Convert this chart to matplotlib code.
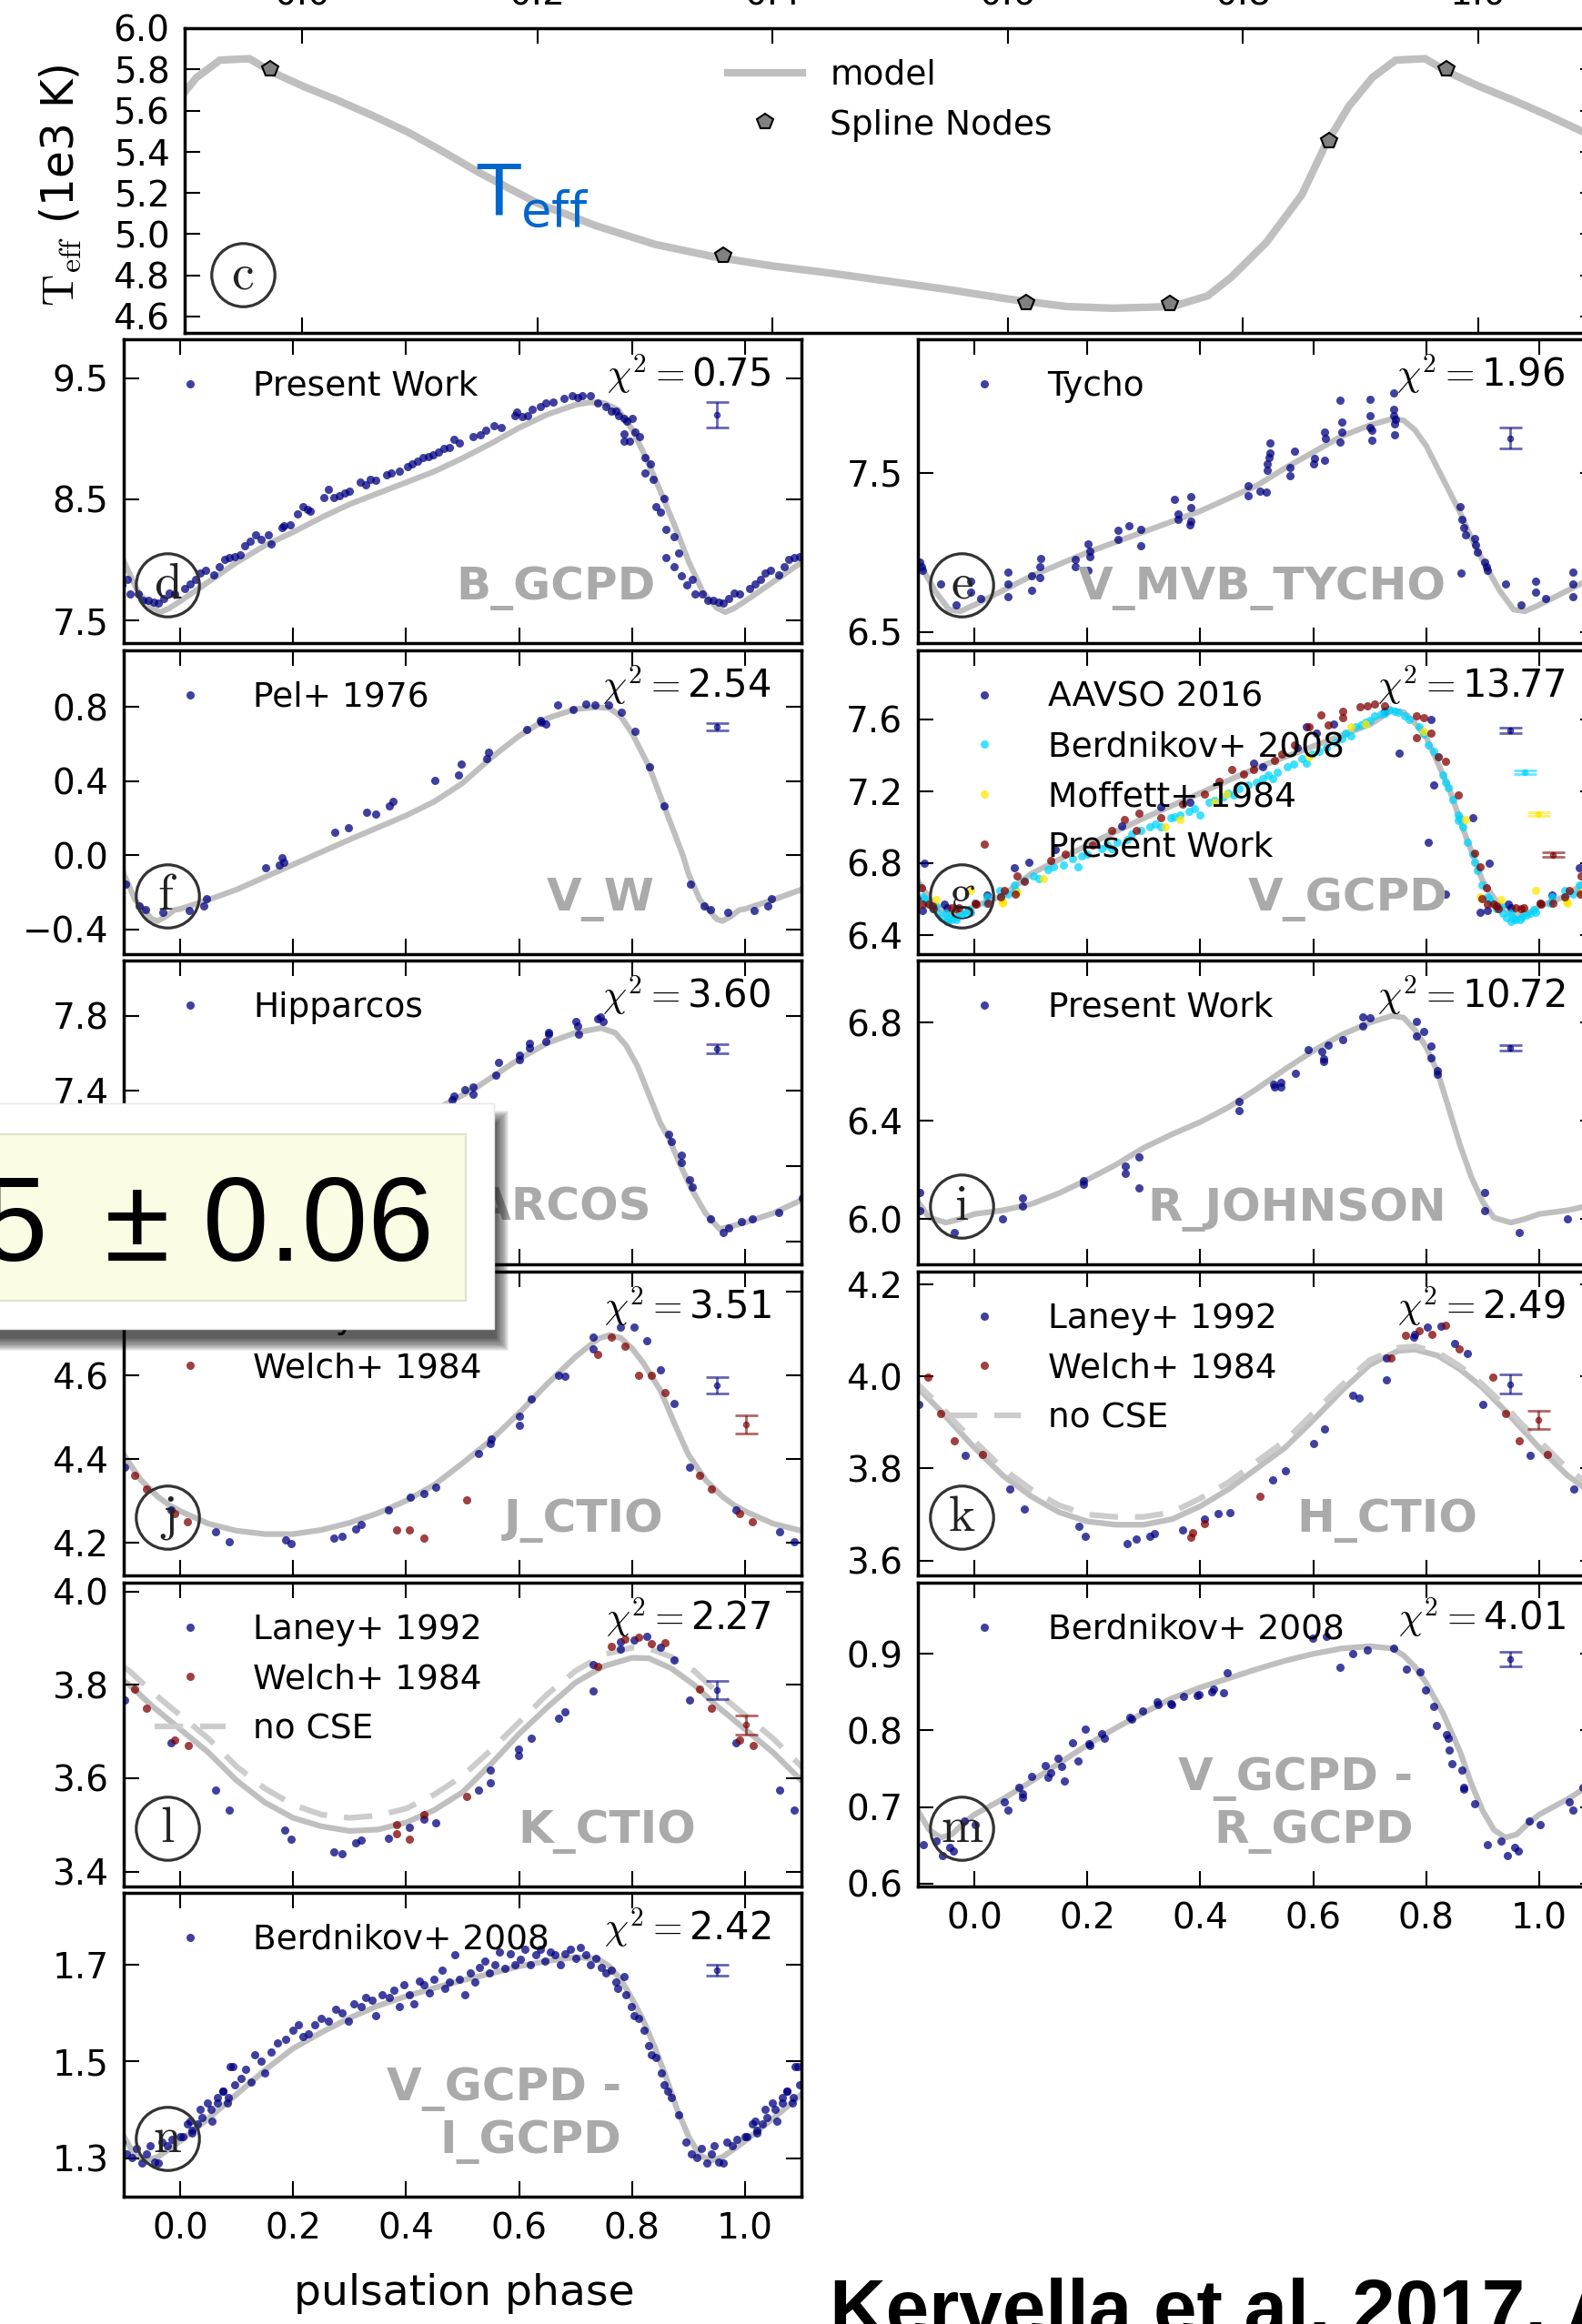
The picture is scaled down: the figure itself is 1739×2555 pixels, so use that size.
import numpy as np
import matplotlib
matplotlib.use("Agg")
from matplotlib import pyplot as plt
from matplotlib.patches import Rectangle

plt.rcParams['font.family'] = 'DejaVu Sans'
plt.rcParams['mathtext.fontset'] = 'cm'

# ---------------- values: (pulsation phase, value) ----------------
teff_model = [(0.00, 5.72), (0.03, 5.65), (0.06, 5.575), (0.09, 5.495), (0.12, 5.40), (0.15, 5.30),
              (0.20, 5.15), (0.25, 5.04), (0.30, 4.95), (0.35, 4.89), (0.40, 4.845), (0.45, 4.81),
              (0.50, 4.77), (0.55, 4.73), (0.60, 4.685), (0.65, 4.648), (0.69, 4.64), (0.74, 4.648),
              (0.77, 4.70), (0.79, 4.79), (0.82, 4.96), (0.85, 5.19), (0.87, 5.43), (0.89, 5.62),
              (0.91, 5.76), (0.93, 5.845), (0.955, 5.852), (0.975, 5.785)]
teff_nodes = [(0.358, 4.897), (0.616, 4.668), (0.738, 4.660), (0.873, 5.450), (0.973, 5.800)]

B_GCPD_model = [(0.00, 7.66), (0.05, 7.82), (0.10, 7.98), (0.15, 8.12), (0.20, 8.23), (0.25, 8.35),
                (0.30, 8.46), (0.35, 8.55), (0.40, 8.64), (0.45, 8.73), (0.50, 8.84), (0.55, 8.96),
                (0.60, 9.09), (0.65, 9.20), (0.70, 9.28), (0.725, 9.30), (0.75, 9.295), (0.775, 9.24),
                (0.80, 9.08), (0.825, 8.84), (0.85, 8.57), (0.875, 8.29), (0.90, 7.99), (0.925, 7.74),
                (0.95, 7.605), (0.965, 7.57), (0.98, 7.60)]
B_GCPD_present = [
    (0.008, 7.768), (0.018, 7.805), (0.027, 7.843), (0.036, 7.893), (0.045, 7.918), (0.059, 7.880),
    (0.069, 7.943), (0.078, 8.005), (0.087, 8.018), (0.096, 8.030), (0.106, 8.043), (0.115, 8.118),
    (0.124, 8.155), (0.133, 8.205), (0.143, 8.168), (0.156, 8.205), (0.161, 8.130), (0.180, 8.268),
    (0.184, 8.280), (0.194, 8.293), (0.207, 8.380), (0.217, 8.443), (0.226, 8.418), (0.231, 8.405),
    (0.254, 8.518), (0.263, 8.580), (0.272, 8.518), (0.281, 8.530), (0.291, 8.555), (0.300, 8.568),
    (0.319, 8.643), (0.328, 8.618), (0.337, 8.668), (0.346, 8.655), (0.365, 8.705), (0.374, 8.718),
    (0.388, 8.730), (0.402, 8.768), (0.411, 8.793), (0.420, 8.818), (0.430, 8.843), (0.439, 8.855),
    (0.448, 8.868), (0.457, 8.893), (0.467, 8.918), (0.476, 8.930), (0.485, 8.993), (0.494, 8.968),
    (0.518, 9.018), (0.531, 9.030), (0.541, 9.068), (0.555, 9.105), (0.569, 9.093), (0.592, 9.193),
    (0.596, 9.218), (0.606, 9.180), (0.615, 9.193), (0.624, 9.243), (0.638, 9.268), (0.647, 9.293),
    (0.661, 9.305), (0.680, 9.330), (0.694, 9.355), (0.703, 9.343), (0.712, 9.355), (0.726, 9.355),
    (0.740, 9.293), (0.754, 9.268), (0.763, 9.230), (0.772, 9.230), (0.777, 9.193), (0.786, 9.168),
    (0.791, 9.143), (0.800, 9.168), (0.805, 9.055), (0.786, 9.043), (0.786, 8.980), (0.795, 8.980),
    (0.814, 9.018), (0.823, 8.843), (0.832, 8.793), (0.823, 8.718), (0.837, 8.668), (0.856, 8.505),
    (0.842, 8.443), (0.851, 8.393), (0.860, 8.255), (0.874, 8.193), (0.883, 8.055), (0.860, 8.018),
    (0.874, 7.943), (0.888, 7.868), (0.897, 7.793), (0.906, 7.843), (0.911, 7.718), (0.925, 7.718),
    (0.934, 7.668), (0.944, 7.668), (0.953, 7.655), (0.962, 7.643), (0.971, 7.680), (0.981, 7.730),
    (0.990, 7.718)]
B_GCPD_err = [(0.951, 9.20, 0.104)]

V_TYCHO_model = [(0.00, 6.67), (0.05, 6.76), (0.10, 6.85), (0.20, 7.00), (0.30, 7.13), (0.40, 7.26),
                 (0.50, 7.42), (0.55, 7.53), (0.60, 7.63), (0.65, 7.73), (0.70, 7.80), (0.74, 7.84),
                 (0.76, 7.83), (0.78, 7.77), (0.80, 7.67), (0.83, 7.46), (0.86, 7.25), (0.88, 7.09),
                 (0.90, 6.95), (0.93, 6.76), (0.955, 6.64), (0.975, 6.63)]
V_TYCHO_obs = [
    (0.011, 6.710), (0.060, 6.875), (0.060, 6.799), (0.060, 6.719), (0.101, 6.852), (0.101, 6.761),
    (0.116, 6.910), (0.116, 6.843), (0.118, 6.963), (0.178, 6.910), (0.178, 6.957), (0.202, 7.052),
    (0.205, 7.005), (0.205, 6.976), (0.202, 6.885), (0.254, 7.138), (0.255, 7.081), (0.274, 7.167),
    (0.295, 7.142), (0.295, 7.043), (0.355, 7.334), (0.361, 7.243), (0.361, 7.205), (0.381, 7.176),
    (0.383, 7.353), (0.383, 7.281), (0.383, 7.195), (0.485, 7.420), (0.485, 7.357), (0.506, 7.386),
    (0.517, 7.382), (0.518, 7.557), (0.518, 7.519), (0.521, 7.595), (0.523, 7.628), (0.523, 7.690),
    (0.558, 7.534), (0.558, 7.485), (0.567, 7.637), (0.601, 7.557), (0.603, 7.591), (0.620, 7.582),
    (0.620, 7.757), (0.621, 7.715), (0.647, 7.957), (0.647, 7.694), (0.651, 7.818), (0.651, 7.757),
    (0.701, 7.963), (0.701, 7.862), (0.701, 7.786), (0.703, 7.706), (0.703, 7.767), (0.742, 8.005),
    (0.742, 7.900), (0.742, 7.862), (0.744, 7.809), (0.744, 7.738), (0.745, 7.839), (0.860, 7.287),
    (0.863, 7.209), (0.866, 7.157), (0.870, 7.110), (0.862, 6.871), (0.886, 7.087), (0.887, 7.047),
    (0.890, 7.001), (0.904, 6.938), (0.906, 6.910), (0.908, 6.885), (0.940, 6.799), (0.968, 6.671),
    (0.994, 6.818), (0.994, 6.751)]
V_TYCHO_err = [(0.949, 7.719, 0.067)]

V_W_model = [(0.00, -0.29), (0.05, -0.24), (0.10, -0.185), (0.20, -0.05), (0.30, 0.085), (0.40, 0.215),
             (0.45, 0.29), (0.50, 0.39), (0.55, 0.525), (0.60, 0.645), (0.65, 0.74), (0.70, 0.79),
             (0.74, 0.80), (0.76, 0.795), (0.78, 0.75), (0.80, 0.66), (0.83, 0.48), (0.86, 0.24),
             (0.89, 0.0), (0.90, -0.10), (0.92, -0.24), (0.95, -0.345), (0.96, -0.355), (0.975, -0.33),
             (0.99, -0.295)]
V_W_pel = [
    (0.016, -0.297), (0.041, -0.273), (0.047, -0.232), (0.152, -0.069), (0.175, -0.052), (0.180, -0.011),
    (0.184, -0.036), (0.273, 0.122), (0.298, 0.149), (0.330, 0.230), (0.346, 0.222), (0.370, 0.269),
    (0.376, 0.291), (0.451, 0.403), (0.493, 0.434), (0.498, 0.491), (0.543, 0.522), (0.546, 0.557),
    (0.613, 0.678), (0.638, 0.731), (0.640, 0.718), (0.647, 0.707), (0.669, 0.813), (0.695, 0.787),
    (0.719, 0.816), (0.735, 0.813), (0.758, 0.813), (0.781, 0.774), (0.806, 0.668), (0.831, 0.478),
    (0.856, 0.266), (0.904, -0.155), (0.928, -0.273), (0.939, -0.292), (0.969, -0.310)]
V_W_err = [(0.951, 0.696, 0.02)]

V_GCPD_model = [(0.00, 6.56), (0.05, 6.62), (0.10, 6.74), (0.20, 6.90), (0.30, 7.05), (0.40, 7.19),
                (0.50, 7.33), (0.60, 7.45), (0.70, 7.57), (0.74, 7.65), (0.76, 7.64), (0.78, 7.58),
                (0.80, 7.50), (0.84, 7.22), (0.87, 6.95), (0.90, 6.70), (0.93, 6.56), (0.96, 6.51),
                (0.98, 6.52)]
V_GCPD_aavso = [
    (0.023, 6.621), (0.071, 6.773), (0.097, 6.807), (0.144, 6.874), (0.261, 7.009), (0.330, 7.111),
    (0.381, 7.136), (0.494, 7.355), (0.511, 7.338), (0.571, 7.440), (0.588, 7.558), (0.606, 7.524),
    (0.636, 7.575), (0.726, 7.642), (0.752, 7.414), (0.804, 6.916), (0.808, 7.600), (0.813, 7.237),
    (0.834, 6.630), (0.882, 7.051), (0.895, 6.528), (0.908, 6.537), (0.912, 6.800), (0.946, 6.570),
    (0.951, 6.554)]
V_GCPD_berdnikov = [
    (0.002, 6.579), (0.020, 6.579), (0.023, 6.613), (0.045, 6.646), (0.046, 6.613), (0.071, 6.680),
    (0.072, 6.646), (0.088, 6.705), (0.105, 6.731), (0.114, 6.714), (0.131, 6.765), (0.157, 6.790),
    (0.174, 6.824), (0.183, 6.781), (0.200, 6.849), (0.226, 6.883), (0.243, 6.883), (0.252, 6.916),
    (0.278, 6.959), (0.295, 6.984), (0.321, 7.018), (0.330, 7.001), (0.347, 7.051), (0.364, 7.068),
    (0.390, 7.102), (0.399, 7.068), (0.416, 7.136), (0.442, 7.170), (0.459, 7.178), (0.468, 7.212),
    (0.485, 7.237), (0.511, 7.271), (0.528, 7.271), (0.537, 7.305), (0.554, 7.338), (0.580, 7.381),
    (0.588, 7.355), (0.597, 7.406), (0.623, 7.440), (0.640, 7.473), (0.657, 7.524), (0.666, 7.507),
    (0.675, 7.558), (0.692, 7.583), (0.701, 7.592), (0.709, 7.617), (0.726, 7.634), (0.744, 7.642),
    (0.761, 7.617), (0.787, 7.558), (0.804, 7.457), (0.813, 7.423), (0.821, 7.389), (0.830, 7.288),
    (0.839, 7.220), (0.847, 7.153), (0.856, 7.068), (0.856, 7.035), (0.865, 7.001), (0.873, 6.916),
    (0.882, 6.849), (0.886, 6.807), (0.899, 6.680), (0.908, 6.613), (0.911, 6.604), (0.925, 6.545),
    (0.933, 6.562), (0.942, 6.495), (0.950, 6.520), (0.951, 6.478), (0.959, 6.486), (0.967, 6.486),
    (0.977, 6.511), (0.984, 6.520), (0.994, 6.528),
    (0.060, 6.630), (0.140, 6.780), (0.190, 6.840), (0.235, 6.900), (0.270, 6.930), (0.310, 7.000),
    (0.355, 7.060), (0.380, 7.090), (0.425, 7.150), (0.450, 7.190), (0.500, 7.250), (0.520, 7.290),
    (0.565, 7.350), (0.610, 7.420), (0.650, 7.490), (0.685, 7.570), (0.720, 7.630), (0.735, 7.655),
    (0.750, 7.640), (0.770, 7.600), (0.795, 7.520), (0.835, 7.250), (0.860, 7.050), (0.890, 6.760),
    (0.915, 6.580), (0.935, 6.520), (0.955, 6.490), (0.970, 6.500), (0.990, 6.540)]
V_GCPD_moffett = [
    (0.049, 6.587), (0.050, 6.579), (0.075, 6.638), (0.123, 6.714), (0.338, 7.001), (0.364, 7.043),
    (0.425, 7.136), (0.446, 7.186), (0.593, 7.389), (0.666, 7.558), (0.692, 7.575), (0.796, 7.532),
    (0.869, 7.043), (0.896, 6.613), (0.933, 6.596), (0.994, 6.646)]
V_GCPD_present = [
    (0.002, 6.579), (0.003, 6.570), (0.024, 6.579), (0.046, 6.613), (0.053, 6.646), (0.072, 6.630),
    (0.075, 6.731), (0.088, 6.697), (0.135, 6.815), (0.161, 6.849), (0.209, 6.900), (0.243, 6.984),
    (0.265, 7.043), (0.286, 6.984), (0.291, 7.077), (0.330, 7.051), (0.368, 7.127), (0.407, 7.186),
    (0.433, 7.254), (0.455, 7.322), (0.476, 7.296), (0.494, 7.322), (0.532, 7.372), (0.545, 7.406),
    (0.567, 7.457), (0.593, 7.558), (0.614, 7.625), (0.627, 7.566), (0.653, 7.608), (0.653, 7.642),
    (0.683, 7.668), (0.696, 7.676), (0.709, 7.684), (0.726, 7.676), (0.783, 7.617), (0.783, 7.499),
    (0.796, 7.608), (0.808, 7.524), (0.821, 7.389), (0.834, 7.364), (0.856, 7.178), (0.886, 6.857),
    (0.895, 6.781), (0.899, 6.604), (0.907, 6.663), (0.908, 6.570), (0.920, 6.570), (0.925, 6.562),
    (0.928, 6.545), (0.959, 6.554), (0.968, 6.545), (0.972, 6.554)]
V_GCPD_err = [(0.949, 7.536, 0.015), (0.974, 7.305, 0.012), (0.999, 7.073, 0.012), (1.024, 6.846, 0.012)]

HIP_model = [(0.00, 6.70), (0.05, 6.75), (0.10, 6.82), (0.20, 6.95), (0.30, 7.08), (0.40, 7.21),
             (0.47, 7.33), (0.52, 7.41), (0.56, 7.49), (0.60, 7.57), (0.65, 7.655), (0.70, 7.71),
             (0.745, 7.735), (0.77, 7.71), (0.79, 7.64), (0.81, 7.53), (0.83, 7.38), (0.85, 7.23),
             (0.865, 7.15), (0.885, 7.01), (0.905, 6.88), (0.93, 6.75), (0.955, 6.665), (0.975, 6.68)]
HIP_obs = [
    (0.013, 6.719), (0.059, 6.752), (0.101, 6.832), (0.481, 7.356), (0.485, 7.373), (0.504, 7.405),
    (0.518, 7.421), (0.518, 7.381), (0.559, 7.485), (0.564, 7.550), (0.601, 7.566), (0.601, 7.590),
    (0.619, 7.631), (0.619, 7.655), (0.647, 7.663), (0.652, 7.703), (0.652, 7.711), (0.701, 7.768),
    (0.703, 7.744), (0.706, 7.703), (0.740, 7.784), (0.744, 7.792), (0.749, 7.768), (0.865, 7.171),
    (0.869, 7.131), (0.888, 7.058), (0.888, 7.018), (0.902, 6.929), (0.906, 6.889), (0.939, 6.719),
    (0.962, 6.647), (0.971, 6.671), (0.994, 6.703)]
HIP_err = [(0.951, 7.623, 0.024)]

R_JOHNSON_model = [(0.00, 6.02), (0.05, 6.035), (0.10, 6.06), (0.15, 6.105), (0.20, 6.16), (0.25, 6.22),
                   (0.30, 6.29), (0.35, 6.345), (0.40, 6.395), (0.45, 6.455), (0.50, 6.53), (0.55, 6.61),
                   (0.60, 6.685), (0.65, 6.75), (0.70, 6.80), (0.74, 6.828), (0.76, 6.82), (0.78, 6.77),
                   (0.80, 6.70), (0.82, 6.60), (0.84, 6.45), (0.86, 6.30), (0.88, 6.17), (0.90, 6.07),
                   (0.92, 6.005), (0.95, 5.985), (0.975, 6.00)]
R_JOHNSON_present = [
    (0.050, 6.001), (0.085, 6.084), (0.085, 6.054), (0.193, 6.156), (0.193, 6.143), (0.267, 6.215),
    (0.267, 6.186), (0.291, 6.252), (0.291, 6.125), (0.469, 6.477), (0.469, 6.442), (0.530, 6.548),
    (0.532, 6.538), (0.542, 6.557), (0.542, 6.536), (0.569, 6.594), (0.591, 6.690), (0.615, 6.683),
    (0.618, 6.653), (0.618, 6.643), (0.627, 6.709), (0.652, 6.732), (0.688, 6.822), (0.688, 6.785),
    (0.701, 6.820), (0.783, 6.804), (0.783, 6.744), (0.796, 6.763), (0.808, 6.705), (0.808, 6.656),
    (0.820, 6.604), (0.820, 6.588), (0.904, 6.106), (0.904, 6.032), (0.965, 5.946)]
R_JOHNSON_err = [(0.949, 6.696, 0.011)]

J_CTIO_model = [(0.00, 4.275), (0.05, 4.245), (0.10, 4.228), (0.15, 4.220), (0.20, 4.220), (0.25, 4.230),
                (0.30, 4.247), (0.35, 4.270), (0.40, 4.300), (0.45, 4.338), (0.50, 4.390), (0.55, 4.445),
                (0.60, 4.510), (0.65, 4.580), (0.70, 4.645), (0.74, 4.688), (0.76, 4.697), (0.78, 4.690),
                (0.80, 4.665), (0.82, 4.630), (0.85, 4.565), (0.88, 4.470), (0.90, 4.410), (0.93, 4.350),
                (0.96, 4.310), (0.98, 4.290)]
J_CTIO_laney = [
    (0.062, 4.225), (0.087, 4.201), (0.186, 4.205), (0.196, 4.198), (0.272, 4.211), (0.286, 4.215),
    (0.311, 4.232), (0.320, 4.244), (0.369, 4.278), (0.408, 4.309), (0.431, 4.318), (0.453, 4.332),
    (0.528, 4.412), (0.549, 4.438), (0.550, 4.448), (0.601, 4.502), (0.601, 4.481), (0.622, 4.543),
    (0.670, 4.601), (0.682, 4.598), (0.731, 4.691), (0.731, 4.663), (0.780, 4.716), (0.803, 4.717),
    (0.826, 4.683), (0.851, 4.614), (0.875, 4.532), (0.902, 4.380), (0.984, 4.278)]
J_CTIO_welch = [
    (0.013, 4.249), (0.383, 4.230), (0.406, 4.230), (0.431, 4.210), (0.508, 4.301), (0.740, 4.650),
    (0.763, 4.691), (0.787, 4.671), (0.811, 4.600), (0.835, 4.600), (0.858, 4.560), (0.919, 4.360),
    (0.941, 4.329), (0.990, 4.269)]
J_CTIO_err = [(0.951, 4.577, 0.020), (1.001, 4.483, 0.021)]

H_CTIO_model = [(0.00, 3.845), (0.05, 3.785), (0.10, 3.74), (0.15, 3.705), (0.20, 3.685), (0.25, 3.678),
                (0.30, 3.678), (0.35, 3.690), (0.40, 3.718), (0.45, 3.755), (0.50, 3.800), (0.55, 3.845),
                (0.60, 3.905), (0.65, 3.968), (0.70, 4.025), (0.75, 4.055), (0.78, 4.058), (0.82, 4.045),
                (0.86, 4.015), (0.90, 3.975), (0.94, 3.925), (0.97, 3.885)]
H_CTIO_nocse = [(0.00, 3.86), (0.05, 3.80), (0.10, 3.755), (0.15, 3.72), (0.20, 3.70), (0.25, 3.695),
                (0.30, 3.695), (0.35, 3.705), (0.40, 3.735), (0.45, 3.77), (0.50, 3.815), (0.55, 3.86),
                (0.60, 3.92), (0.65, 3.98), (0.70, 4.035), (0.75, 4.062), (0.78, 4.065), (0.82, 4.052),
                (0.86, 4.022), (0.90, 3.982), (0.94, 3.935), (0.97, 3.895)]
H_CTIO_laney = [
    (0.062, 3.756), (0.088, 3.713), (0.185, 3.675), (0.197, 3.653), (0.271, 3.638), (0.286, 3.646),
    (0.311, 3.653), (0.319, 3.659), (0.369, 3.667), (0.407, 3.691), (0.431, 3.703), (0.453, 3.705),
    (0.528, 3.776), (0.550, 3.795), (0.600, 3.855), (0.620, 3.886), (0.670, 3.959), (0.682, 3.953),
    (0.729, 4.039), (0.729, 3.993), (0.778, 4.085), (0.780, 4.090), (0.802, 4.106), (0.826, 4.108),
    (0.850, 4.072), (0.873, 4.049), (0.901, 3.939), (0.984, 3.828)]
H_CTIO_welch = [
    (0.015, 3.830), (0.383, 3.651), (0.386, 3.661), (0.407, 3.680), (0.506, 3.739), (0.737, 4.040),
    (0.763, 4.089), (0.787, 4.099), (0.810, 4.090), (0.834, 4.110), (0.859, 4.060), (0.918, 3.999),
    (0.940, 3.920), (0.965, 3.860)]
H_CTIO_err = [(0.949, 3.983, 0.021), (0.999, 3.905, 0.020)]

K_CTIO_model = [(0.00, 3.705), (0.05, 3.655), (0.10, 3.595), (0.15, 3.548), (0.20, 3.515), (0.25, 3.497),
                (0.30, 3.487), (0.35, 3.490), (0.40, 3.505), (0.45, 3.532), (0.50, 3.57), (0.55, 3.63),
                (0.60, 3.695), (0.65, 3.752), (0.70, 3.805), (0.75, 3.84), (0.80, 3.858), (0.83, 3.857),
                (0.87, 3.835), (0.91, 3.80), (0.95, 3.755), (0.98, 3.725)]
K_CTIO_nocse = [(0.00, 3.735), (0.05, 3.685), (0.10, 3.625), (0.15, 3.578), (0.20, 3.543), (0.25, 3.522),
                (0.30, 3.515), (0.35, 3.52), (0.40, 3.535), (0.45, 3.565), (0.50, 3.605), (0.55, 3.66),
                (0.60, 3.72), (0.65, 3.78), (0.70, 3.83), (0.75, 3.865), (0.80, 3.880), (0.83, 3.878),
                (0.87, 3.86), (0.91, 3.83), (0.95, 3.785), (0.98, 3.755)]
K_CTIO_laney = [
    (0.062, 3.575), (0.087, 3.532), (0.185, 3.489), (0.196, 3.470), (0.272, 3.442), (0.286, 3.438),
    (0.311, 3.462), (0.320, 3.468), (0.369, 3.472), (0.406, 3.495), (0.431, 3.513), (0.453, 3.505),
    (0.528, 3.575), (0.549, 3.591), (0.549, 3.618), (0.599, 3.648), (0.599, 3.662), (0.622, 3.686),
    (0.670, 3.729), (0.682, 3.743), (0.731, 3.788), (0.731, 3.844), (0.780, 3.893), (0.780, 3.877),
    (0.803, 3.897), (0.826, 3.904), (0.851, 3.881), (0.875, 3.853), (0.902, 3.767), (0.984, 3.675)]
K_CTIO_welch = [
    (0.015, 3.671), (0.383, 3.481), (0.383, 3.501), (0.406, 3.470), (0.431, 3.522), (0.508, 3.560),
    (0.740, 3.840), (0.763, 3.882), (0.787, 3.899), (0.811, 3.903), (0.835, 3.888), (0.858, 3.890),
    (0.919, 3.791), (0.941, 3.750), (0.990, 3.682)]
K_CTIO_err = [(0.951, 3.789, 0.020), (1.001, 3.714, 0.020)]

VR_model = [(0.00, 0.69), (0.05, 0.71), (0.10, 0.733), (0.15, 0.757), (0.20, 0.781), (0.25, 0.803),
            (0.30, 0.823), (0.35, 0.842), (0.40, 0.856), (0.45, 0.868), (0.50, 0.880), (0.55, 0.891),
            (0.60, 0.900), (0.65, 0.907), (0.70, 0.910), (0.74, 0.907), (0.76, 0.898), (0.78, 0.883),
            (0.80, 0.862), (0.83, 0.822), (0.86, 0.772), (0.88, 0.730), (0.90, 0.695), (0.92, 0.670),
            (0.94, 0.660), (0.96, 0.664), (0.98, 0.678)]
VR_berdnikov = [
    (0.002, 0.677), (0.053, 0.706), (0.059, 0.696), (0.078, 0.725), (0.085, 0.717), (0.085, 0.713),
    (0.101, 0.740), (0.125, 0.754), (0.131, 0.739), (0.135, 0.745), (0.148, 0.764), (0.154, 0.753),
    (0.160, 0.734), (0.174, 0.784), (0.183, 0.760), (0.197, 0.802), (0.203, 0.783), (0.205, 0.780),
    (0.226, 0.796), (0.230, 0.790), (0.275, 0.817), (0.278, 0.815), (0.298, 0.825), (0.323, 0.837),
    (0.325, 0.834), (0.348, 0.835), (0.349, 0.834), (0.370, 0.845), (0.395, 0.846), (0.397, 0.847),
    (0.420, 0.850), (0.423, 0.854), (0.442, 0.849), (0.447, 0.875), (0.599, 0.920), (0.623, 0.923),
    (0.647, 0.882), (0.670, 0.900), (0.695, 0.905), (0.742, 0.907), (0.765, 0.880), (0.789, 0.877),
    (0.798, 0.853), (0.813, 0.831), (0.818, 0.806), (0.836, 0.794), (0.839, 0.790), (0.841, 0.774),
    (0.846, 0.757), (0.863, 0.748), (0.867, 0.726), (0.867, 0.723), (0.885, 0.704), (0.909, 0.651),
    (0.933, 0.655), (0.943, 0.637), (0.957, 0.647), (0.963, 0.642), (0.982, 0.681)]
VR_err = [(0.949, 0.893, 0.0099)]

VI_model = [(0.00, 1.335), (0.05, 1.382), (0.10, 1.432), (0.15, 1.482), (0.20, 1.527), (0.25, 1.560),
            (0.30, 1.590), (0.35, 1.615), (0.40, 1.635), (0.45, 1.652), (0.50, 1.668), (0.55, 1.682),
            (0.60, 1.697), (0.65, 1.708), (0.70, 1.716), (0.74, 1.712), (0.76, 1.697), (0.78, 1.670),
            (0.80, 1.630), (0.82, 1.585), (0.84, 1.53), (0.86, 1.468), (0.88, 1.40), (0.90, 1.345),
            (0.92, 1.305), (0.94, 1.295), (0.96, 1.302), (0.98, 1.318)]
VI_berdnikov = [
    (0.004, 1.345), (0.018, 1.376), (0.021, 1.358), (0.036, 1.401), (0.048, 1.414), (0.057, 1.376),
    (0.066, 1.426), (0.075, 1.439), (0.084, 1.414), (0.089, 1.489), (0.096, 1.451), (0.107, 1.464),
    (0.116, 1.483), (0.125, 1.458), (0.132, 1.514), (0.143, 1.501), (0.150, 1.476), (0.161, 1.520),
    (0.173, 1.539), (0.186, 1.545), (0.200, 1.564), (0.209, 1.576), (0.218, 1.551), (0.227, 1.558),
    (0.239, 1.576), (0.250, 1.589), (0.263, 1.583), (0.275, 1.608), (0.286, 1.601), (0.298, 1.583),
    (0.307, 1.620), (0.321, 1.614), (0.329, 1.633), (0.339, 1.626), (0.346, 1.595), (0.357, 1.639),
    (0.370, 1.633), (0.379, 1.648), (0.388, 1.614), (0.396, 1.658), (0.405, 1.639), (0.414, 1.620),
    (0.423, 1.667), (0.432, 1.658), (0.441, 1.642), (0.450, 1.670), (0.463, 1.689), (0.468, 1.651),
    (0.477, 1.664), (0.486, 1.720), (0.495, 1.670), (0.504, 1.639), (0.513, 1.683), (0.521, 1.664),
    (0.530, 1.695), (0.539, 1.708), (0.548, 1.683), (0.557, 1.701), (0.566, 1.726), (0.575, 1.692),
    (0.584, 1.723), (0.593, 1.701), (0.602, 1.711), (0.611, 1.733), (0.620, 1.701), (0.629, 1.720),
    (0.638, 1.733), (0.646, 1.708), (0.655, 1.726), (0.664, 1.720), (0.673, 1.701), (0.682, 1.723),
    (0.691, 1.733), (0.700, 1.714), (0.709, 1.736), (0.718, 1.720), (0.727, 1.701), (0.736, 1.714),
    (0.745, 1.695), (0.754, 1.683), (0.763, 1.689), (0.771, 1.664), (0.775, 1.651), (0.786, 1.676),
    (0.789, 1.639), (0.798, 1.614), (0.804, 1.595), (0.811, 1.589), (0.821, 1.564), (0.829, 1.533),
    (0.834, 1.514), (0.843, 1.508), (0.852, 1.476), (0.857, 1.451), (0.864, 1.439), (0.870, 1.426),
    (0.882, 1.389), (0.896, 1.333), (0.905, 1.308), (0.914, 1.301), (0.923, 1.320), (0.932, 1.289),
    (0.941, 1.308), (0.946, 1.326), (0.954, 1.292), (0.961, 1.289), (0.968, 1.333), (0.977, 1.326),
    (0.986, 1.339), (0.000, 1.345), (0.013, 1.370), (0.021, 1.351), (0.030, 1.370), (0.039, 1.383),
    (0.054, 1.401), (0.066, 1.414), (0.075, 1.439), (0.086, 1.426), (0.093, 1.489)]
VI_err = [(0.950, 1.689, 0.011)]

phase_ticks = [0.0, 0.2, 0.4, 0.6, 0.8, 1.0]

panels = [
    dict(letter='d', col=0, row=0, band='B_GCPD', chi='0.75', ylim=(7.315, 9.82), yticks=[7.5, 8.5, 9.5],
         model=B_GCPD_model, series=[('Present Work', B_GCPD_present)], errs=B_GCPD_err, bx=0.638),
    dict(letter='e', col=1, row=0, band='V_MVB_TYCHO', chi='1.96', ylim=(6.43, 8.34), yticks=[6.5, 7.5],
         model=V_TYCHO_model, series=[('Tycho', V_TYCHO_obs)], errs=V_TYCHO_err, bx=0.508),
    dict(letter='f', col=0, row=1, band='V_W', chi='2.54', ylim=(-0.534, 1.107), yticks=[-0.4, 0.0, 0.4, 0.8],
         model=V_W_model, series=[('Pel+ 1976', V_W_pel)], errs=V_W_err, bx=0.703),
    dict(letter='g', col=1, row=1, band='V_GCPD', chi='13.77', ylim=(6.294, 7.983), yticks=[6.4, 6.8, 7.2, 7.6],
         model=V_GCPD_model,
         series=[('AAVSO 2016', V_GCPD_aavso), ('Berdnikov+ 2008', V_GCPD_berdnikov),
                 ('Moffett+ 1984', V_GCPD_moffett), ('Present Work', V_GCPD_present)],
         errs=V_GCPD_err, bx=0.634),
    dict(letter='h', col=0, row=2, band='HIPPARCOS', chi='3.60', ylim=(6.478, 8.094), yticks=[6.6, 7.0, 7.4, 7.8],
         model=HIP_model, series=[('Hipparcos', HIP_obs)], errs=HIP_err, bx=0.562),
    dict(letter='i', col=1, row=2, band='R_JOHNSON', chi='10.72', ylim=(5.815, 7.053), yticks=[6.0, 6.4, 6.8],
         model=R_JOHNSON_model, series=[('Present Work', R_JOHNSON_present)], errs=R_JOHNSON_err, bx=0.560),
    dict(letter='j', col=0, row=3, band='J_CTIO', chi='3.51', ylim=(4.121, 4.849), yticks=[4.2, 4.4, 4.6, 4.8],
         model=J_CTIO_model, series=[('Laney+ 1992', J_CTIO_laney), ('Welch+ 1984', J_CTIO_welch)],
         errs=J_CTIO_err, bx=0.678),
    dict(letter='k', col=1, row=3, band='H_CTIO', chi='2.49', ylim=(3.568, 4.227), yticks=[3.6, 3.8, 4.0, 4.2],
         model=H_CTIO_model, nocse=H_CTIO_nocse,
         series=[('Laney+ 1992', H_CTIO_laney), ('Welch+ 1984', H_CTIO_welch)], errs=H_CTIO_err, bx=0.693),
    dict(letter='l', col=0, row=4, band='K_CTIO', chi='2.27', ylim=(3.368, 4.019), yticks=[3.4, 3.6, 3.8, 4.0],
         model=K_CTIO_model, nocse=K_CTIO_nocse,
         series=[('Laney+ 1992', K_CTIO_laney), ('Welch+ 1984', K_CTIO_welch)], errs=K_CTIO_err, bx=0.713),
    dict(letter='m', col=1, row=4, band='V_GCPD -\nR_GCPD', chi='4.01', ylim=(0.596, 0.993),
         yticks=[0.6, 0.7, 0.8, 0.9], model=VR_model, series=[('Berdnikov+ 2008', VR_berdnikov)],
         errs=VR_err, bx=0.731, xlabels=True),
    dict(letter='n', col=0, row=5, band='V_GCPD -\nI_GCPD', chi='2.42', ylim=(1.22, 1.849), yticks=[1.3, 1.5, 1.7],
         model=VI_model, series=[('Berdnikov+ 2008', VI_berdnikov)], errs=VI_err, bx=0.734, xlabels=True),
]

# ---------------- layout (pixels) ----------------
W, H = 1740, 2555
fig = plt.figure(figsize=(W / 100, H / 100), dpi=100)
fig.patch.set_facecolor('white')


def add_axes_px(left, top, width, height):
    return fig.add_axes([left / W, 1 - (top + height) / H, width / W, height / H])


def wrap(pairs):
    arr = np.array(pairs, dtype=float)
    ph, val = arr[:, 0], arr[:, 1]
    return np.concatenate([ph - 1, ph, ph + 1]), np.tile(val, 3)


def series_colors(n):
    if n == 1:
        return [plt.cm.jet(0.0)]
    return [plt.cm.jet(i / (n - 1)) for i in range(n)]


def style_axes(ax, ylim, yticks, xlabels):
    ax.set_xlim(-0.1, 1.1)
    ax.set_ylim(*ylim)
    ax.set_xticks(phase_ticks)
    ax.set_yticks(yticks)
    ax.tick_params(direction='in', length=12, width=1.5, top=True, right=True,
                   labelsize=28, pad=12, labelbottom=xlabels)
    for s in ax.spines.values():
        s.set_linewidth(2.5)


def circled(ax, letter, x, y):
    ax.plot([x], [y], 'o', ms=50, mfc='none', mec='#333333', mew=2.3,
            transform=ax.transAxes, clip_on=False, zorder=6)
    ax.text(x, y, r'$\mathrm{%s}$' % letter, ha='center', va='center', fontsize=40,
            color='#222222', transform=ax.transAxes, zorder=6)


# ---- panel c: effective temperature ----
axc = add_axes_px(203, 31, 1551, 335)
style_axes(axc, (4.52, 6.0), np.round(np.arange(4.6, 6.01, 0.2), 1), False)
xm, ym = wrap(teff_model)
axc.plot(xm, ym, '-', color='0.75', lw=6, label='model')
xn, yn = wrap(teff_nodes)
axc.plot(xn, yn, 'p', ms=13, mfc='0.5', mec='k', mew=1.5, ls='none', label='Spline Nodes')
axc.legend(loc='upper left', bbox_to_anchor=(0.363, 1.0), frameon=False, numpoints=1,
           fontsize=27, handlelength=2.2)
axc.text(0.148, 5.084, r'T$_\mathrm{eff}$', color='#0066cc', fontsize=56, ha='left',
         va='baseline', math_fontfamily='dejavusans')
circled(axc, 'c', 0.041, 0.191)
for t in phase_ticks:
    axc.text(t, (366 - 6) / 335, '%.1f' % t, ha='center', va='baseline', fontsize=28,
             transform=axc.get_xaxis_transform())
fig.text(66 / W, 1 - 204 / H, r'$\mathrm{T_{eff}}$ (1e3 K)', rotation=90, ha='center',
         va='center', fontsize=35)

# ---- photometry panels ----
row_tops = [373, 715, 1056, 1398, 1740, 2081]
col_left = [136, 1009]
for p in panels:
    ax = add_axes_px(col_left[p['col']], row_tops[p['row']], 745, 334)
    style_axes(ax, p['ylim'], p['yticks'], p.get('xlabels', False))
    xm, ym = wrap(p['model'])
    ax.plot(xm, ym, '-', color='0.75', lw=4.5, zorder=1)
    cols = series_colors(len(p['series']))
    handles = []
    for (name, pts), c in zip(p['series'], cols):
        x, y = wrap(pts)
        h, = ax.plot(x, y, 'o', ms=6.5, mew=0, color=c, alpha=0.75, ls='none', label=name, zorder=2)
        handles.append(h)
    if 'nocse' in p:
        xn, yn = wrap(p['nocse'])
        h, = ax.plot(xn, yn, color='0.8', lw=4.5, dashes=(5.0, 3.0), label='no CSE', zorder=1.5)
        handles.append(h)
    for (ex, ey, ee), c in zip(p['errs'], cols):
        ax.errorbar([ex], [ey], yerr=[ee], fmt='o', ms=4.5, color=c, alpha=0.6, capsize=9,
                    elinewidth=2, capthick=2, zorder=3)
    ax.legend(handles=handles, loc='upper left', frameon=False, numpoints=1, fontsize=27,
              handlelength=2.1)
    ax.text(0.955, 0.844, r'$\chi^2=$' + p['chi'], ha='right', va='baseline', fontsize=30,
            transform=ax.transAxes)
    lines = p['band'].split('\n')
    if len(lines) == 1:
        ax.text(p['bx'], 0.145, lines[0], ha='center', va='baseline', fontsize=36,
                fontweight='bold', color='#aaaaaa', transform=ax.transAxes)
    else:
        for k, line in enumerate(reversed(lines)):
            ax.text(p['bx'], 0.145 + 0.172 * k, line, ha='right', va='baseline', fontsize=36,
                    fontweight='bold', color='#aaaaaa', transform=ax.transAxes)
    circled(ax, p['letter'], 0.065, 0.192)

fig.text(510 / W, 1 - 2521 / H, 'pulsation phase', ha='center', va='center', fontsize=34)


# ---- overlaid pop-up box ----
def px_rect(x, y, w, h, **kw):
    r = Rectangle((x / W, 1 - (y + h) / H), w / W, h / H, transform=fig.transFigure, **kw)
    fig.add_artist(r)
    return r


n_blur = 14
for k in range(n_blur):
    pad = 15 * (1 - k / n_blur)
    px_rect(-30 - pad, 1236 - pad, 574 + 2 * pad, 234 + 2 * pad, facecolor='black',
            edgecolor='none', alpha=0.065, zorder=20)
px_rect(-10, 1213, 553, 248, facecolor='white', edgecolor='#e6e6e6', lw=1, zorder=21)
px_rect(-10, 1247, 522, 183, facecolor='#fafde4', edgecolor='#dfe3c6', lw=1.5, zorder=22)
fig.text(52 / W, 1 - 1386 / H, '5', ha='right', va='baseline', fontsize=94,
         family='Liberation Sans', zorder=23)
fig.text(477 / W, 1 - 1386 / H, '\u00b1 0.06', ha='right', va='baseline', fontsize=94,
         family='Liberation Sans', zorder=23)

fig.text(912 / W, 1 - 2566 / H, 'Kervella et al. 2017, A&A', ha='left', va='baseline', fontsize=61.5,
         fontweight='bold', family='Liberation Sans', zorder=23)

fig.savefig('out.png', dpi=100)
